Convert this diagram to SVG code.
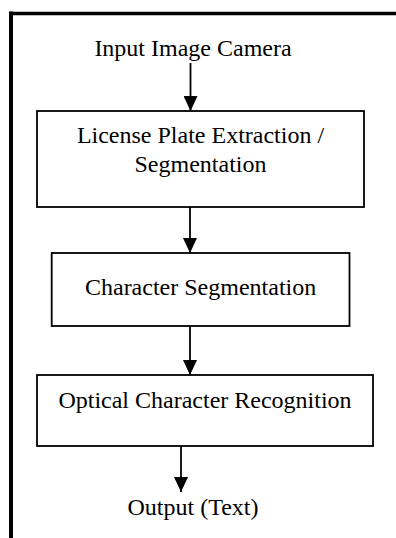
<svg xmlns="http://www.w3.org/2000/svg" width="396" height="538" viewBox="0 0 396 538">
<defs>
<marker id="ah" markerUnits="userSpaceOnUse" markerWidth="15" markerHeight="14" refX="15" refY="7" orient="auto">
<path d="M0,0 L15,7 L0,14 z" fill="#000"/>
</marker>
<style>
.box{fill:#fff;stroke:#000;stroke-width:1.8}
.t{font-family:"Liberation Serif","Times New Roman",serif;font-size:24px;fill:#000;text-anchor:middle}
.c{stroke:#000;stroke-width:1.8;fill:none;marker-end:url(#ah)}
</style>
</defs>
<rect width="396" height="538" fill="#fff"/>
<g id="frame">
<line x1="11" y1="11.5" x2="11" y2="538" stroke="#000" stroke-width="4"/>
<line x1="9" y1="13.5" x2="396" y2="13.5" stroke="#000" stroke-width="3.4"/>
</g>
<g id="input"><text class="t" x="193" y="56">Input Image Camera</text></g>
<g id="lpe">
<rect class="box" x="37" y="111" width="327" height="96"/>
<text class="t" x="200.5" y="143">License Plate Extraction /</text>
<text class="t" x="200.5" y="171.5">Segmentation</text>
</g>
<g id="cs">
<rect class="box" x="51.7" y="253" width="297.8" height="73"/>
<text class="t" x="200.6" y="295">Character Segmentation</text>
</g>
<g id="ocr">
<rect class="box" x="37" y="375" width="336" height="71"/>
<text class="t" x="205" y="408">Optical Character Recognition</text>
</g>
<g id="output"><text class="t" x="193" y="515">Output (Text)</text></g>
<g id="connectors">
<line class="c" x1="190.5" y1="63" x2="190.5" y2="111"/>
<line class="c" x1="190" y1="207" x2="190" y2="253"/>
<line class="c" x1="190" y1="326" x2="190" y2="375"/>
<line class="c" x1="181" y1="446" x2="181" y2="492"/>
</g>
</svg>
